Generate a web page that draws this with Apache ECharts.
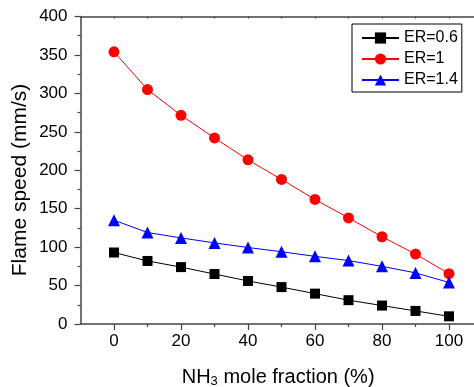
<!DOCTYPE html>
<html>
<head>
<meta charset="utf-8">
<script src="https://cdn.jsdelivr.net/npm/echarts@6/dist/echarts.min.js"></script>
<style>
  html, body { margin: 0; padding: 0; background: #fff; }
  #chart { width: 474px; height: 387px; }
</style>
</head>
<body>
<div id="chart"></div>
<script>
// NH3 mole fraction (%) on the x axis
const fractions = [0, 10, 20, 30, 40, 50, 60, 70, 80, 90, 100];
// Laminar flame speed (mm/s) for each equivalence ratio
const er06 = [93, 82, 74, 65, 56, 48, 39.5, 31, 24, 17, 10];
const er10 = [354, 305, 271.5, 242, 213.5, 188, 162, 138, 113.5, 91, 65.5];
const er14 = [135, 119, 112, 105.5, 99.5, 94, 88, 82.5, 75, 66.5, 54];
const seriesNames = ['ER=0.6', 'ER=1', 'ER=1.4'];
const xTickLabels = [0, 20, 40, 60, 80, 100];
const xMinorTicks = [10, 30, 50, 70, 90];

const FONT = '"Liberation Sans", Arial, sans-serif';
const AXIS_COLOR = '#444';

const pairs = arr => fractions.map((x, i) => [x, arr[i]]);

const chart = echarts.init(document.getElementById('chart'), null, { renderer: 'canvas' });

chart.setOption({
  animation: false,
  backgroundColor: '#fff',
  textStyle: { fontFamily: FONT },
  grid: {
    left: 80.5, top: 16.5, width: 395.3, bottom: 63,
    containLabel: false, outerBoundsMode: 'none'
  },
  legend: {
    orient: 'vertical',
    left: 352,
    top: 24,
    padding: [6, 4, 4, 9],
    itemGap: 5,
    itemWidth: 37,
    itemHeight: 14,
    borderColor: '#000',
    borderWidth: 1,
    backgroundColor: '#fff',
    textStyle: { fontSize: 16, color: '#000', fontFamily: FONT, lineHeight: 14 },
    data: seriesNames
  },
  xAxis: [
    {
      type: 'value', min: -10, max: 108, interval: 10,
      position: 'bottom',
      axisLine: { show: true, onZero: false, lineStyle: { color: AXIS_COLOR, width: 1.5 } },
      axisTick: { show: true, customValues: xTickLabels, length: 6, lineStyle: { color: AXIS_COLOR, width: 1.2 } },
      axisLabel: { customValues: xTickLabels, fontSize: 17, color: '#000', margin: 9, fontFamily: FONT },
      splitLine: { show: false },
      name: '{a|NH}{s|3}{a| mole fraction (%)}',
      nameLocation: 'middle',
      nameGap: 42,
      nameTextStyle: {
        rich: {
          a: { fontSize: 20, color: '#000', fontFamily: FONT, lineHeight: 22 },
          s: { fontSize: 13, color: '#000', fontFamily: FONT, lineHeight: 22, verticalAlign: 'bottom', padding: [13, 0, 0, 0] }
        }
      }
    },
    {
      // minor ticks between labelled values
      type: 'value', min: -10, max: 108, interval: 10,
      position: 'bottom',
      axisLine: { show: false, onZero: false },
      axisTick: { show: true, customValues: xMinorTicks, length: 3, lineStyle: { color: AXIS_COLOR, width: 1.2 } },
      axisLabel: { show: false },
      splitLine: { show: false }
    },
    {
      // frame along the top
      type: 'value', min: -10, max: 108, interval: 10,
      position: 'top',
      axisLine: { show: true, onZero: false, lineStyle: { color: AXIS_COLOR, width: 1.5 } },
      axisTick: { show: true, inside: true, customValues: fractions, length: 2, lineStyle: { color: AXIS_COLOR, width: 1 } },
      axisLabel: { show: false },
      splitLine: { show: false }
    }
  ],
  yAxis: {
    type: 'value', min: 0, max: 400, interval: 50,
    axisLine: { show: true, onZero: false, lineStyle: { color: AXIS_COLOR, width: 1.5 } },
    axisTick: { show: true, length: 6, lineStyle: { color: AXIS_COLOR, width: 1.2 } },
    minorTick: { show: true, splitNumber: 2, length: 3, lineStyle: { color: AXIS_COLOR, width: 1.2 } },
    axisLabel: { fontSize: 17, color: '#000', margin: 13, fontFamily: FONT },
    splitLine: { show: false },
    minorSplitLine: { show: false }
  },
  graphic: [
    {
      type: 'text',
      x: 20, y: 180,
      rotation: Math.PI / 2,
      style: {
        text: 'Flame speed (mm/s)',
        fontSize: 21, fontFamily: FONT, fill: '#000',
        align: 'center', verticalAlign: 'middle'
      }
    }
  ],
  series: [
    {
      name: seriesNames[0], type: 'line', data: pairs(er06),
      symbol: 'rect', symbolSize: 10,
      itemStyle: { color: '#000' },
      lineStyle: { color: '#000', width: 1 }
    },
    {
      name: seriesNames[1], type: 'line', data: pairs(er10),
      symbol: 'circle', symbolSize: 11,
      itemStyle: { color: '#ff0000' },
      lineStyle: { color: '#ff0000', width: 1 }
    },
    {
      name: seriesNames[2], type: 'line', data: pairs(er14),
      symbol: 'triangle', symbolSize: 12,
      itemStyle: { color: '#0000ff' },
      lineStyle: { color: '#0000ff', width: 1 }
    }
  ]
});
</script>
</body>
</html>
